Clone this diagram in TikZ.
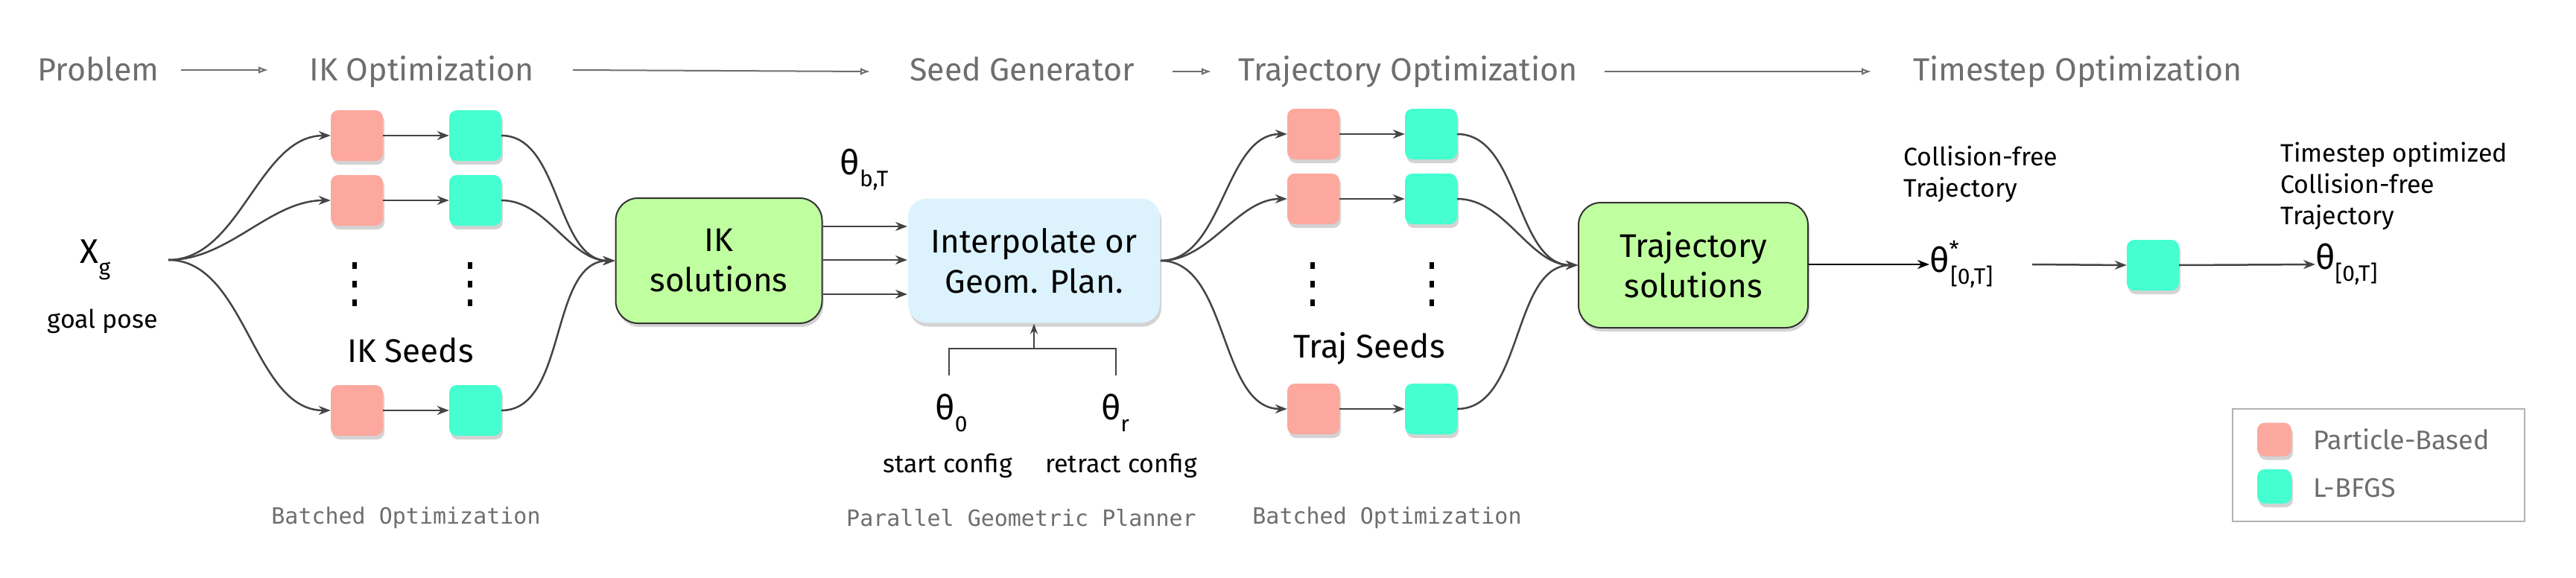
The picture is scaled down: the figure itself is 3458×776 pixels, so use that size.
\documentclass[tikz,border=0pt]{standalone}
\usepackage{fontspec}
\setmainfont{Fira Sans}
\setmonofont{DejaVu Sans Mono}
\usetikzlibrary{arrows.meta,shadows,positioning}
\definecolor{pk}{HTML}{FCA89E}
\definecolor{tq}{HTML}{45FFD0}
\definecolor{lg}{HTML}{C0FFA0}
\definecolor{lb}{HTML}{DCF3FD}
\definecolor{tg}{HTML}{6E6E6E}
\definecolor{ln}{HTML}{444444}
\tikzset{
 x=1pt,y=-1pt,
 sh/.style={drop shadow={opacity=0.35,shadow xshift=2pt,shadow yshift=-5pt}},
 small/.style={rounded corners=10pt,minimum width=70pt,minimum height=68pt,inner sep=0pt,sh},
 pb/.style={small,fill=pk},
 lb/.style={small,fill=tq},
 big/.style={rounded corners=30pt,draw=black!80,line width=2pt,inner sep=0pt,align=center,font=\fontsize{44}{54}\selectfont,sh},
 title/.style={text=tg,font=\fontsize{43}{50}\selectfont,anchor=base},
 tarr/.style={draw=tg,line width=2pt,-{Latex[open,length=13pt,width=10pt]}},
 conn/.style={draw=ln,line width=2.5pt,-{Stealth[length=16pt,width=12pt]}},
 lbl/.style={font=\fontsize{34}{42}\selectfont,align=left},
 mono/.style={text=tg,font=\ttfamily\fontsize{30}{36}\selectfont},
 th/.style={font=\fontsize{46}{50}\selectfont,inner sep=0pt},
 dot/.style={fill=black,minimum width=6pt,minimum height=9pt,inner sep=0pt}
}
\newcommand{\subx}[1]{\raisebox{-0.35em}{\fontsize{30}{30}\selectfont #1}}
\newcommand{\vdotcol}[2]{\foreach \k in {0,1,2}{\node[dot] (dc#1\k) at (#1,#2+25*\k) {};}}
\begin{document}
\begin{tikzpicture}
\useasboundingbox (0,0) rectangle (3458,776);
% titles
\node[title] (t1) at (132,108) {Problem};
\node[title] (t2) at (566,108) {IK Optimization};
\node[title] (t3) at (1372,108) {Seed Generator};
\node[title] (t4) at (1890,108) {Trajectory Optimization};
\node[title] (t5) at (2789,108) {Timestep Optimization};
\coordinate (a1s) at (243,94); \coordinate (a1e) at (360,94);
\coordinate (a2s) at (769,94); \coordinate (a2e) at (1168,96);
\coordinate (a3s) at (1574,96); \coordinate (a3e) at (1626,96);
\coordinate (a4s) at (2154,96); \coordinate (a4e) at (2512,96);
\draw[tarr] (a1s) -- (a1e);
\draw[tarr] (a2s) -- (a2e);
\draw[tarr] (a3s) -- (a3e);
\draw[tarr] (a4s) -- (a4e);
% goal
\node[th] (xg) at (128,349) {X\subx{g}};
\node[lbl] (gp) at (138,431) {goal pose};
\coordinate (o1) at (226,349);
% IK seeds
\foreach \i/\y in {1/182,2/269,3/551}{
 \node[pb] (p\i) at (479,\y) {};
 \node[lb] (g\i) at (638,\y) {};
 \draw[conn] (p\i) -- (g\i);
}
\vdotcol{476}{356}
\vdotcol{631}{356}
\node[font=\fontsize{44}{50}\selectfont] (iks) at (551,470) {IK Seeds};
\node[big,fill=lg,minimum width=277pt,minimum height=168pt] (iksol) at (965,350) {IK\\solutions};
\foreach \i in {1,2,3}{
 \draw[conn] (o1) to[out=0,in=180,looseness=0.9] (p\i.west);
 \draw[conn] (g\i.east) to[out=0,in=180,looseness=0.9] (iksol.west);
}
\node[mono] (bo1) at (545,695) {Batched Optimization};
% interpolate
\node[big,fill=lb,draw=none,rounded corners=25pt,minimum width=338pt,minimum height=167pt] (interp) at (1388,350) {Interpolate or\\Geom. Plan.};
\foreach \y in {304,349,395}{
 \draw[conn] (iksol.east |- 0,\y) -- (interp.west |- 0,\y);
}
\node[th] (tbt) at (1160,228) {θ\subx{b,T}};
\coordinate (jn) at (1388,468);
\coordinate (bl) at (1274,468); \coordinate (br) at (1498,468);
\coordinate (bl2) at (1274,504); \coordinate (br2) at (1498,504);
\draw[ln,line width=2.5pt] (bl2) -- (bl) -- (br) -- (br2);
\draw[ln,line width=2.5pt,-{Stealth[length=14pt,width=10pt]}] (jn) -- (interp.south);
\node[th] (t0) at (1277,554) {θ\subx{0}};
\node[th] (tr) at (1497,554) {θ\subx{r}};
\node[lbl] (sc) at (1272,625) {start config};
\node[lbl] (rc) at (1505,625) {retract config};
\node[mono] (pgp) at (1371,695) {Parallel Geometric Planner};
% traj seeds
\foreach \i/\y in {1/180,2/267,3/549}{
 \node[pb] (q\i) at (1763,\y) {};
 \node[lb] (h\i) at (1921,\y) {};
 \draw[conn] (q\i) -- (h\i);
}
\vdotcol{1762}{356}
\vdotcol{1922}{356}
\node[font=\fontsize{44}{50}\selectfont] (tjs) at (1838,468) {Traj Seeds};
\node[big,fill=lg,minimum width=308pt,minimum height=168pt] (tsol) at (2273,356) {Trajectory\\solutions};
\foreach \i in {1,2,3}{
 \draw[conn] (interp.east) to[out=0,in=180,looseness=0.9] (q\i.west);
 \draw[conn] (h\i.east) to[out=0,in=180,looseness=0.9] (tsol.west);
}
\node[mono] (bo2) at (1862,695) {Batched Optimization};
% timestep
\node[th,anchor=west] (ts) at (2590,355) {θ\raisebox{0.45em}{\fontsize{30}{30}\selectfont *}\hspace{-0.25em}\subx{[0,T]}};
\draw[draw=black,line width=2.5pt,-{Stealth[length=16pt,width=12pt]}] (tsol.east |- ts.west) -- (ts.west);
\node[lbl,anchor=west] (cf) at (2552,234) {Collision-free\\Trajectory};
\node[lb] (tg1) at (2890,356) {};
\coordinate (a5s) at (2728,355);
\draw[conn] (a5s) -- (tg1.west);
\node[th,anchor=west] (tf) at (3108,355) {θ\subx{[0,T]}};
\draw[conn] (tg1.east) -- (tf.west);
\node[lbl,anchor=west] (tocf) at (3058,250) {Timestep optimized\\Collision-free\\Trajectory};
% legend
\node[draw=black!30,line width=2pt,minimum width=392pt,minimum height=151pt,inner sep=0pt] (leg) at (3193,624) {};
\node[small,fill=pk,minimum width=46pt,minimum height=45pt] (lp) at (3053,590) {};
\node[small,fill=tq,minimum width=46pt,minimum height=46pt] (lt) at (3053,653) {};
\node[text=tg,font=\fontsize{36}{40}\selectfont,anchor=west] (lpt) at (3102,590) {Particle-Based};
\node[text=tg,font=\fontsize{36}{40}\selectfont,anchor=west] (ltt) at (3102,655) {L-BFGS};
\end{tikzpicture}
\end{document}
